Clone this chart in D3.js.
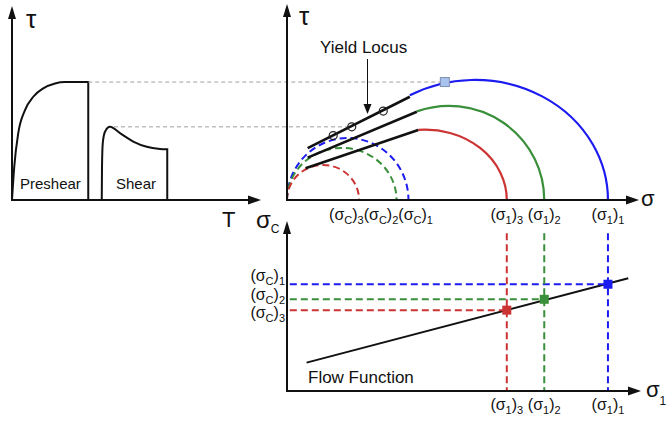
<!DOCTYPE html>
<html>
<head>
<meta charset="utf-8">
<script src="https://cdnjs.cloudflare.com/ajax/libs/d3/7.8.5/d3.min.js"></script>
<style>
body { margin:0; background:#fff; }
text { font-family: "Liberation Sans", Arial, sans-serif; fill:#111; }
</style>
</head>
<body>
<svg width="667" height="424"></svg>
<script>
// shear test (left panel), time vs shear stress
var preshearT   = [0, 0.09, 0.25, 0.52, 0.85, 1.25, 1.72, 2.12, 3.05]
var preshearTau = [0, 0.95, 1.91, 2.57, 2.95, 3.19, 3.33, 3.37, 3.37]
var shearT   = [3.59, 3.60, 3.63, 3.72, 3.92, 4.32, 4.85, 5.39, 5.92, 6.21]
var shearTau = [0, 0.95, 1.62, 1.95, 2.09, 1.91, 1.67, 1.52, 1.46, 1.45]

// mohr circles, in order 1, 2, 3
var series = ["1", "2", "3"]
var colors = ["#1c1cf0", "#3a8f3a", "#cc3333"]
var sigma1 = [9.17, 7.35, 6.28]
var sigma2 = [1.57, 1.91, 1.61]
var tauMax = [3.43, 2.69, 2.01]
var sigmaC = [3.47, 3.13, 2.06]
var tauC   = [1.77, 1.49, 1.00]

// yield loci (start / end of each line)
var locusS0 = [0.59, 0.59, 0.53]
var locusT0 = [1.48, 1.21, 0.91]
var locusS1 = [3.51, 3.71, 3.75]
var locusT1 = [2.95, 2.52, 2.00]

// shear points on the first yield locus + steady state point
var pointS = [1.32, 1.85, 2.75]
var pointT = [1.84, 2.09, 2.54]
var steadyS = 4.51, steadyT = 3.37

// flow function
var ffS = [0.56, 9.75]
var ffC = [0.81, 3.22]
var ffSigmaC = [3.05, 2.62, 2.31]

var svg = d3.select("svg")
svg.append("rect").attr("width", 667).attr("height", 424).attr("fill", "#fff")

var tScale   = d3.scaleLinear().domain([0, 10]).range([12, 262])
var sScale   = d3.scaleLinear().domain([0, 10]).range([287, 637])
var tauScale = d3.scaleLinear().domain([0, 5]).range([200, 25])
var cScale   = d3.scaleLinear().domain([0, 5]).range([391, 216])

// arrow drawn as line + filled head
var arrow = function(x1, y1, x2, y2, w, len, half)
{
    var dx = x2 - x1, dy = y2 - y1
    var L = Math.sqrt(dx*dx + dy*dy)
    var ux = dx / L, uy = dy / L
    var bx = x2 - ux*len, by = y2 - uy*len
    svg.append("line")
        .attr("x1", x1).attr("y1", y1).attr("x2", bx).attr("y2", by)
        .attr("stroke", "#111").attr("stroke-width", w)
    svg.append("path")
        .attr("d", "M" + x2 + "," + y2 + "L" + (bx - uy*half) + "," + (by + ux*half) +
              "L" + (bx + uy*half) + "," + (by - ux*half) + "Z")
        .attr("fill", "#111")
}

// text with subscripts: parts = [[text, isSub], ...]
var subText = function(x, y, parts, size, subSize, anchor, shift)
{
    var t = svg.append("text").attr("x", x).attr("y", y)
        .attr("text-anchor", anchor).style("font-size", size + "px")
    var down = false
    parts.forEach(function(p)
    {
        var ts = t.append("tspan").text(p[0])
        if (p[1]) { ts.style("font-size", subSize + "px"); if (!down) { ts.attr("dy", shift); down = true } }
        else { ts.style("font-size", size + "px"); if (down) { ts.attr("dy", -shift); down = false } }
    })
    return t
}

var grey = function(x1, y1, x2, y2)
{
    svg.append("line")
        .attr("x1", x1).attr("y1", y1).attr("x2", x2).attr("y2", y2)
        .attr("stroke", "#a0a0a0").attr("stroke-width", 1).attr("stroke-dasharray", "4,3")
}

// ---------- left panel ----------
var tLine = d3.line()
    .x(function(d) { return tScale(d[0]) })
    .y(function(d) { return tauScale(d[1]) })
    .curve(d3.curveMonotoneX)

var pre = preshearT.map(function(t, i) { return [t, preshearTau[i]] })
var sh  = shearT.map(function(t, i) { return [t, shearTau[i]] })

svg.append("path")
    .attr("d", tLine(pre) + "L" + tScale(preshearT[preshearT.length-1]) + "," + tauScale(0))
    .attr("fill", "none").attr("stroke", "#111").attr("stroke-width", 2)
svg.append("path")
    .attr("d", tLine(sh) + "L" + tScale(shearT[shearT.length-1]) + "," + tauScale(0))
    .attr("fill", "none").attr("stroke", "#111").attr("stroke-width", 2)

arrow(tScale(0), tauScale(0), tScale(0), 6, 2, 13, 4)
arrow(tScale(0) - 1, tauScale(0), 261, tauScale(0), 2, 13, 4.5)

svg.append("text").attr("x", 26).attr("y", 28).style("font-size", "26px").text("τ")
svg.append("text").attr("x", 222).attr("y", 227).style("font-size", "22px").text("T")
svg.append("text").attr("x", 20).attr("y", 189).style("font-size", "15px").text("Preshear")
svg.append("text").attr("x", 116).attr("y", 189).style("font-size", "15px").text("Shear")

// grey guides between the panels
grey(tScale(preshearT[preshearT.length-1]), tauScale(steadyT), sScale(steadyS), tauScale(steadyT))
grey(tScale(shearT[4]) + 4, tauScale(shearTau[4]), sScale(pointS[1]) - 4, tauScale(pointT[1]))

// ---------- top right: mohr circles ----------
series.forEach(function(s, i)
{
    var rx = (sScale(sigmaC[i]) - sScale(0)) / 2
    var ry = tauScale(0) - tauScale(tauC[i])
    svg.append("path")
        .attr("d", "M" + sScale(0) + "," + tauScale(0) + "A" + rx + "," + ry + " 0 0 1 " +
              sScale(sigmaC[i]) + "," + tauScale(0))
        .attr("fill", "none").attr("stroke", colors[i]).attr("stroke-width", 2)
        .attr("stroke-dasharray", "7,4")
})

series.forEach(function(s, i)
{
    var c = (sigma1[i] + sigma2[i]) / 2, r = (sigma1[i] - sigma2[i]) / 2
    var u = (locusS1[i] - c) / r
    var tauStart = tauMax[i] * Math.sqrt(1 - u*u)
    var rx = sScale(r) - sScale(0)
    var ry = tauScale(0) - tauScale(tauMax[i])
    svg.append("path")
        .attr("d", "M" + sScale(locusS1[i]) + "," + tauScale(tauStart) + "A" + rx + "," + ry +
              " 0 0 1 " + sScale(sigma1[i]) + "," + tauScale(0))
        .attr("fill", "none").attr("stroke", colors[i]).attr("stroke-width", 2.2)
})

series.forEach(function(s, i)
{
    svg.append("line")
        .attr("x1", sScale(locusS0[i])).attr("y1", tauScale(locusT0[i]))
        .attr("x2", sScale(locusS1[i])).attr("y2", tauScale(locusT1[i]))
        .attr("stroke", "#111").attr("stroke-width", 2.6)
})

svg.selectAll(".pt")
    .data(pointS)
    .enter()
    .append("circle")
    .attr("cx", function(d) { return sScale(d) })
    .attr("cy", function(d, i) { return tauScale(pointT[i]) })
    .attr("r", 4)
    .attr("fill", "none").attr("stroke", "#222").attr("stroke-width", 1.2)

svg.append("rect")
    .attr("x", sScale(steadyS) - 4.5).attr("y", tauScale(steadyT) - 4.5)
    .attr("width", 9).attr("height", 9)
    .attr("fill", "#a9c3ef").attr("stroke", "#7d8fb0").attr("stroke-width", 1)

arrow(sScale(0), tauScale(0), sScale(0), 4, 2, 13, 4)
arrow(sScale(0) - 1, tauScale(0), 639, tauScale(0), 2, 13, 4.5)

svg.append("text").attr("x", 299).attr("y", 25).style("font-size", "26px").text("τ")
svg.append("text").attr("x", 641).attr("y", 206).style("font-size", "22px").text("σ")

// yield locus annotation
svg.append("text").attr("x", 320).attr("y", 53).style("font-size", "17px").text("Yield Locus")
var annS = 2.3
var annT = locusT0[0] + (locusT1[0] - locusT0[0]) * (annS - locusS0[0]) / (locusS1[0] - locusS0[0])
arrow(sScale(annS), 59, sScale(annS), tauScale(annT) - 4, 1, 10, 4)

// tick labels under the top axis
var cParts = []
;[2, 1, 0].forEach(function(i)
{
    cParts.push(["(σ", false], ["C", true], [")", false], [series[i], true])
})
subText(sScale(sigmaC[2]) - 30, 220, cParts, 16, 11, "start", 4)

series.forEach(function(s, i)
{
    subText(sScale(sigma1[i]), 220, [["(σ", false], ["1", true], [")", false], [s, true]], 16, 11, "middle", 4)
})

// ---------- bottom: flow function ----------
svg.append("line")
    .attr("x1", sScale(ffS[0])).attr("y1", cScale(ffC[0]))
    .attr("x2", sScale(ffS[1])).attr("y2", cScale(ffC[1]))
    .attr("stroke", "#111").attr("stroke-width", 2)

series.forEach(function(s, i)
{
    svg.append("line")
        .attr("x1", sScale(sigma1[i])).attr("y1", cScale(4.51))
        .attr("x2", sScale(sigma1[i])).attr("y2", cScale(0))
        .attr("stroke", colors[i]).attr("stroke-width", 2).attr("stroke-dasharray", "7,4")
    svg.append("line")
        .attr("x1", sScale(0.08)).attr("y1", cScale(ffSigmaC[i]))
        .attr("x2", sScale(sigma1[i])).attr("y2", cScale(ffSigmaC[i]))
        .attr("stroke", colors[i]).attr("stroke-width", 2).attr("stroke-dasharray", "7,4")
})

svg.selectAll(".sq")
    .data(sigma1)
    .enter()
    .append("rect")
    .attr("x", function(d) { return sScale(d) - 4.5 })
    .attr("y", function(d, i) { return cScale(ffSigmaC[i]) - 4.5 })
    .attr("width", 9).attr("height", 9)
    .attr("fill", function(d, i) { return colors[i] })

arrow(sScale(0), cScale(0), sScale(0), 221, 2, 13, 4)
arrow(sScale(0) - 1, cScale(0), 641, cScale(0), 2, 13, 4.5)

subText(256, 228, [["σ", false], ["C", true]], 24, 12, "start", 5)
subText(646, 397, [["σ", false], ["1", true]], 22, 12, "start", 8)
svg.append("text").attr("x", 308).attr("y", 383).style("font-size", "17px").text("Flow Function")

var leftShift = [-3, 1, 8]
series.forEach(function(s, i)
{
    subText(285, cScale(ffSigmaC[i]) + leftShift[i], [["(σ", false], ["C", true], [")", false], [s, true]], 16, 11, "end", 4)
    subText(sScale(sigma1[i]), 410, [["(σ", false], ["1", true], [")", false], [s, true]], 16, 11, "middle", 4)
})
</script>
</body>
</html>
